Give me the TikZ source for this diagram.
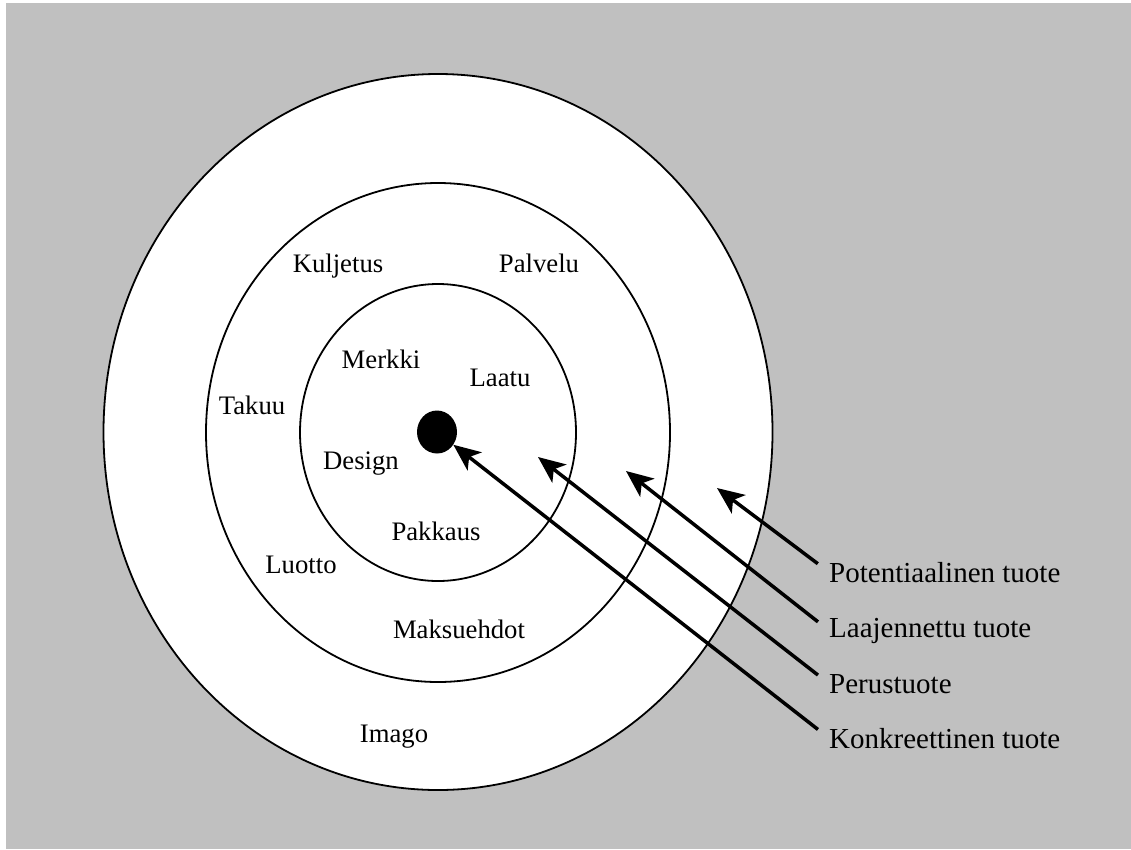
\documentclass[tikz,border=0pt]{standalone}
\usepackage{fontspec}
\setmainfont{Liberation Serif}
\usetikzlibrary{arrows.meta,shapes.geometric}
\definecolor{panelgray}{RGB}{192,192,192}
\tikzstyle{ring} = [draw,line width=1.8pt,fill=white]
\tikzstyle{item} = [inner sep=0pt,anchor=base,font=\fontsize{26.7}{30}\selectfont]
\tikzstyle{level} = [inner sep=0pt,anchor=base west,font=\fontsize{29}{34}\selectfont]
\tikzstyle{point} = [draw,line width=3.5pt,-{Stealth[length=27pt,width=23pt,inset=7pt]},shorten <=14pt]

\begin{document}
\begin{tikzpicture}[x=1pt,y=-1pt,core/.style={ellipse,fill=black,inner sep=0pt,minimum width=40pt,minimum height=43pt}]

    \useasboundingbox (0,0) rectangle (1131,849);
    \fill[panelgray] (6,3) rectangle (1131,849);

    % rings of the product
    \draw[ring] (438,432) ellipse [x radius=334.5,y radius=358];
    \draw[ring] (438,432.5) ellipse [x radius=232,y radius=249.5];
    \draw[ring] (438,432.5) ellipse [x radius=138,y radius=148.5];
    \node[core] (dot) at (437,432) {};

    \node[item] (kul) at (338,272) {Kuljetus};
    \node[item] (pal) at (539,272) {Palvelu};
    \node[item] (mer) at (381,368) {Merkki};
    \node[item] (laa) at (500,386) {Laatu};
    \node[item] (tak) at (252,414) {Takuu};
    \node[item] (des) at (361,469) {Design};
    \node[item] (pak) at (436,540) {Pakkaus};
    \node[item] (luo) at (301,573) {Luotto};
    \node[item] (mak) at (459,638) {Maksuehdot};
    \node[item] (ima) at (394,742) {Imago};

    \node[level] (pot) at (829,582) {Potentiaalinen tuote};
    \node[level] (laj) at (829,637) {Laajennettu tuote};
    \node[level] (per) at (829,693) {Perustuote};
    \node[level] (kon) at (829,748) {Konkreettinen tuote};

    \coordinate (potend) at (717,488);
    \coordinate (lajend) at (626,471);
    \coordinate (perend) at (538,457);

    \draw[point] (pot.west) -- (potend);
    \draw[point] (laj.west) -- (lajend);
    \draw[point] (per.west) -- (perend);
    \draw[point] (kon.west) -- (dot);

\end{tikzpicture}
\end{document}
